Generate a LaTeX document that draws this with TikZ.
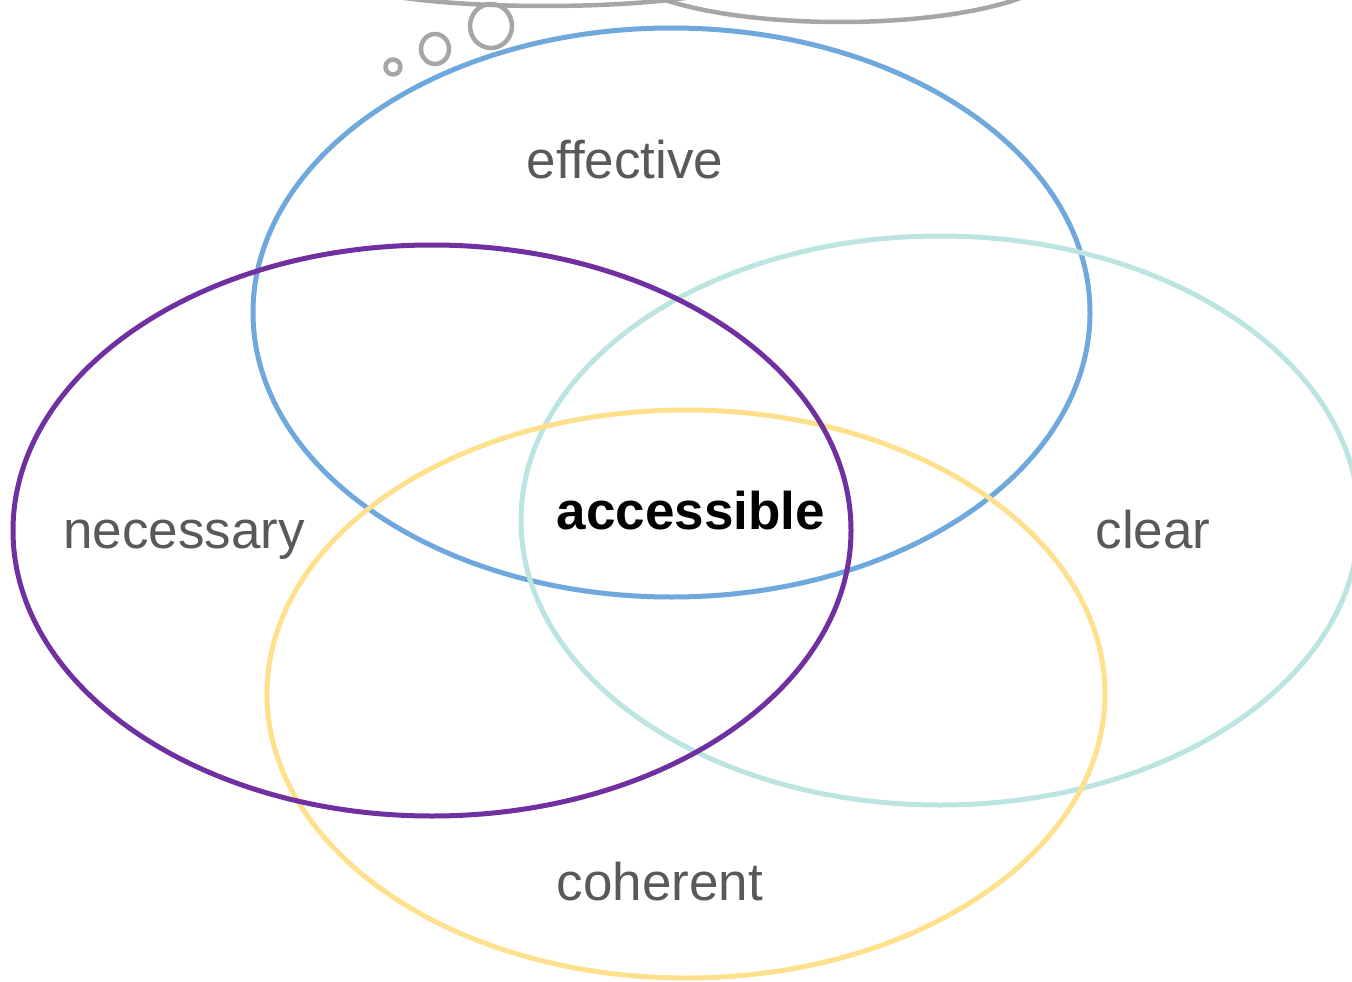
\documentclass[tikz,border=0pt]{standalone}
\usepackage{fontspec}
\setmainfont{Liberation Sans}
\definecolor{cblue}{HTML}{6FA8DC}
\definecolor{cpurple}{HTML}{7030A0}
\definecolor{cteal}{HTML}{BCE4E1}
\definecolor{cyellow}{HTML}{FFE08C}
\definecolor{cgray}{HTML}{A6A6A6}
\definecolor{ctext}{HTML}{595959}
\tikzset{
  ring/.style={line width=5pt},
  bub/.style={draw=cgray, line width=4.5pt},
  lab/.style={anchor=base, inner sep=0pt, text=ctext, font=\fontsize{53}{60}\selectfont},
  boldlab/.style={anchor=base, inner sep=0pt, text=black, font=\fontsize{53}{60}\selectfont\bfseries}
}
\begin{document}
\begin{tikzpicture}[x=1pt,y=-1pt]
\useasboundingbox (0,0) rectangle (1352,982);
\clip (0,0) rectangle (1352,982);
% thought cloud (cut off at top)
\draw[bub] (545,-22) ellipse [x radius=200, y radius=28];
\draw[bub] (840,-34) ellipse [x radius=220, y radius=56];
\draw[bub] (491,26) ellipse [x radius=21, y radius=22];
\draw[bub] (435,49) ellipse [x radius=14, y radius=15];
\draw[bub] (393,67) ellipse [x radius=7.5, y radius=7.5];
% ellipses
\draw[ring, draw=cblue] (671.5,312.5) ellipse [x radius=418.5, y radius=284.5];
\draw[ring, draw=cteal] (940,520.5) ellipse [x radius=419, y radius=284.5];
\draw[ring, draw=cyellow] (686,694) ellipse [x radius=419, y radius=284];
\draw[ring, draw=cpurple] (432,530.5) ellipse [x radius=419, y radius=285.5];
% labels
\node[lab] (eff) at (625,178) {effective};
\node[lab] (nec) at (184,548) {necessary};
\node[lab] (clr) at (1153,548) {clear};
\node[lab] (coh) at (660,900) {coherent};
\node[boldlab] (acc) at (691,529) {accessible};
\end{tikzpicture}
\end{document}
